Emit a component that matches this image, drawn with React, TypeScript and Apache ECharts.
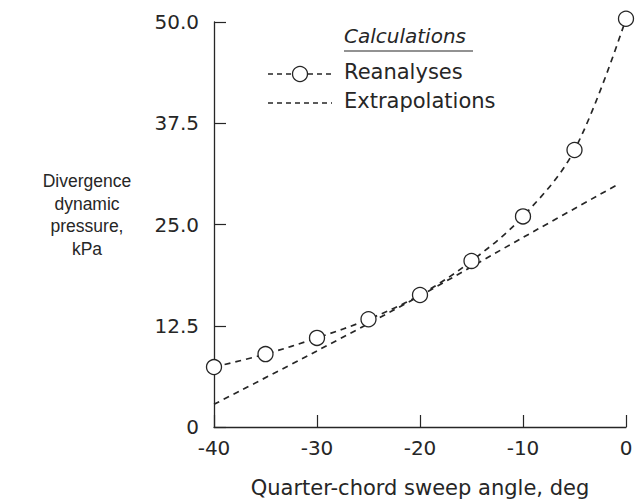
import React, { useEffect, useRef } from "react";
import * as echarts from "echarts";

const sweepAngles = [-40, -35, -30, -25, -20, -15, -10, -5, 0];
const reanalyses = [7.4, 9.0, 11.0, 13.3, 16.3, 20.5, 26.0, 34.2, 50.4];
const extrapAngles = [-40, -30, -20, -10, -1];
const extrapolations = [2.8, 9.4, 16.2, 23.4, 29.8];
const yTicks = [0, 12.5, 25.0, 37.5, 50.0];
const xTicks = [-40, -30, -20, -10, 0];

const INK = "#262626";
const FONT = "DejaVu Sans, Liberation Sans, Arial, sans-serif";
const FONT2 = "Liberation Sans, Arial, Helvetica, sans-serif";

export default function App() {
  const ref = useRef<HTMLDivElement>(null);
  useEffect(() => {
    if (!ref.current) return;
    const chart = echarts.init(ref.current, null, { renderer: "svg" });
    chart.setOption({
      animation: false,
      backgroundColor: "#ffffff",
      grid: { left: 214, top: 22, width: 412, height: 408, containLabel: false },
      xAxis: {
        type: "value",
        min: -40,
        max: 0,
        interval: 10,
        axisLine: { show: true, onZero: false, lineStyle: { color: INK, width: 1.3 } },
        axisTick: { show: true, inside: true, length: 12, lineStyle: { color: INK, width: 1.2 } },
        axisLabel: {
          color: INK,
          fontSize: 20,
          fontFamily: FONT,
          margin: 11,
          formatter: (v: number) => (xTicks.includes(v) ? String(v) : ""),
        },
        splitLine: { show: false },
        name: "Quarter-chord sweep angle, deg",
        nameLocation: "middle",
        nameGap: 50,
        nameTextStyle: { color: INK, fontSize: 21, fontFamily: FONT },
      },
      yAxis: {
        type: "value",
        min: 0,
        max: 50,
        interval: 12.5,
        axisLine: { show: true, onZero: false, lineStyle: { color: INK, width: 1.3 } },
        axisTick: { show: true, inside: true, length: 12, lineStyle: { color: INK, width: 1.2 } },
        axisLabel: {
          color: INK,
          fontSize: 20,
          fontFamily: FONT,
          margin: 15,
          formatter: (v: number) => {
            if (v === 0) return "0";
            return yTicks.includes(v) ? v.toFixed(1) : "";
          },
        },
        splitLine: { show: false },
      },
      graphic: [
        {
          type: "text",
          x: 87,
          y: 170,
          style: {
            text: "Divergence\ndynamic\npressure,\nkPa",
            fill: INK,
            fontSize: 17.5,
            fontFamily: FONT2,
            align: "center",
            lineHeight: 22.5,
          },
        },
        {
          type: "text",
          x: 344,
          y: 26,
          style: { text: "Calculations", fill: INK, fontSize: 20, fontFamily: FONT, fontStyle: "italic" },
        },
        { type: "line", shape: { x1: 344, y1: 51, x2: 473, y2: 51 }, style: { stroke: INK, lineWidth: 1.2 } },
        {
          type: "text",
          x: 344,
          y: 61,
          style: { text: "Reanalyses", fill: INK, fontSize: 21, fontFamily: FONT },
        },
        {
          type: "text",
          x: 344,
          y: 90,
          style: { text: "Extrapolations", fill: INK, fontSize: 21, fontFamily: FONT },
        },
        {
          type: "line",
          shape: { x1: 268, y1: 74, x2: 292, y2: 74 },
          style: { stroke: INK, lineWidth: 1.6, lineDash: [5, 4] },
        },
        {
          type: "line",
          shape: { x1: 308, y1: 74, x2: 332, y2: 74 },
          style: { stroke: INK, lineWidth: 1.6, lineDash: [5, 4] },
        },
        {
          type: "circle",
          shape: { cx: 300, cy: 74, r: 7.5 },
          style: { fill: "#fff", stroke: INK, lineWidth: 1.3 },
        },
        {
          type: "line",
          shape: { x1: 268, y1: 103, x2: 332, y2: 103 },
          style: { stroke: INK, lineWidth: 1.6, lineDash: [5, 4] },
        },
      ],
      series: [
        {
          name: "Extrapolations",
          type: "line",
          data: extrapAngles.map((a, i) => [a, extrapolations[i]]),
          smooth: 0.3,
          showSymbol: false,
          symbol: "none",
          lineStyle: { color: INK, width: 1.7, type: [6, 5] },
          z: 2,
        },
        {
          name: "Reanalyses",
          type: "line",
          clip: false,
          data: sweepAngles.map((a, i) => [a, reanalyses[i]]),
          smooth: 0.35,
          symbol: "circle",
          symbolSize: 15,
          itemStyle: { color: "#ffffff", borderColor: INK, borderWidth: 1.3 },
          lineStyle: { color: INK, width: 1.7, type: [6, 5] },
          z: 3,
        },
      ],
    });
    return () => chart.dispose();
  }, []);
  return (
    <div
      ref={ref}
      style={{ position: "fixed", left: 0, top: 0, width: 638, height: 503, background: "#fff" }}
    />
  );
}
